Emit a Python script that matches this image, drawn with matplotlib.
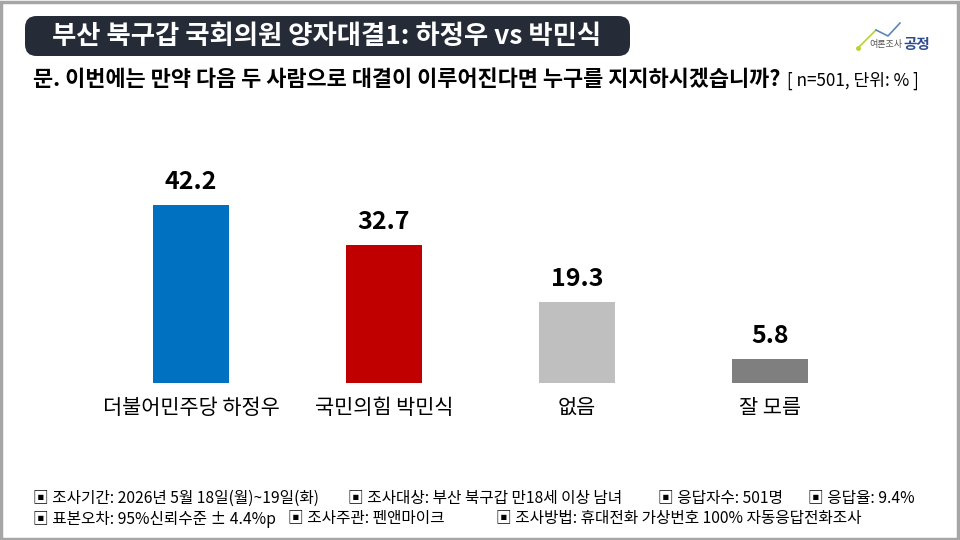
import matplotlib.pyplot as plt
from matplotlib.patches import FancyBboxPatch, Rectangle

plt.rcParams['font.family'] = ['Noto Sans CJK KR', 'DejaVu Sans']

# 데이터
categories = ['더불어민주당 하정우', '국민의힘 박민식', '없음', '잘 모름']
values = [42.2, 32.7, 19.3, 5.8]
colors = ['#0070c0', '#c00000', '#bfbfbf', '#7f7f7f']

title = '부산 북구갑 국회의원 양자대결1: 하정우 vs 박민식'
question = '문. 이번에는 만약 다음 두 사람으로 대결이 이루어진다면 누구를 지지하시겠습니까?'
note = '[ n=501, 단위: % ]'
footer1 = ['▣ 조사기간: 2026년 5월 18일(월)~19일(화)', '▣ 조사대상: 부산 북구갑 만18세 이상 남녀',
           '▣ 응답자수: 501명', '▣ 응답율: 9.4%']
footer2 = ['▣ 표본오차: 95%신뢰수준 ± 4.4%p', '▣ 조사주관: 펜앤마이크',
           '▣ 조사방법: 휴대전화 가상번호 100% 자동응답전화조사']

W, H = 960, 540
fig = plt.figure(figsize=(9.6, 5.4), dpi=100)

def fx(px):
    return px / W

def fy(py):
    return 1 - py / H

# 테두리
fig.patches.append(Rectangle((0.001, 0.002), 0.997, 0.995, transform=fig.transFigure,
                             fill=False, edgecolor='#a6a6a6', linewidth=2.5))

# 제목 상자
fig.patches.append(FancyBboxPatch((fx(25), fy(56)), fx(605), 40 / H,
                                  boxstyle='round,pad=0,rounding_size=0.012',
                                  transform=fig.transFigure, facecolor='#262b38',
                                  edgecolor='none', mutation_aspect=W / H))
fig.text(fx(327), fy(37), title, color='white', fontsize=19, fontweight='bold',
         ha='center', va='center')

# 질문
fig.text(fx(33), fy(80), question, fontsize=15.8, fontweight='bold', va='center')
fig.text(fx(787), fy(81), note, fontsize=12.3, va='center')

# 로고
lx = [fx(858), fx(876), fx(888), fx(900)]
ly = [fy(48), fy(30), fy(36), fy(23)]
fig.lines.append(plt.Line2D(lx[:2], ly[:2], transform=fig.transFigure, color='#b5d334', lw=1.2))
fig.lines.append(plt.Line2D(lx[1:], ly[1:], transform=fig.transFigure, color='#5a87b8', lw=1.2))
fig.lines.append(plt.Line2D(lx[:1], ly[:1], transform=fig.transFigure,
                            color='#b5d334', lw=0, marker='o', ms=2.5))
fig.text(fx(886), fy(45), '여론조사', fontsize=6.5, color='#555555', ha='center', va='center')
fig.text(fx(917), fy(44), '공정', fontsize=10.5, color='#2e4d8f', fontweight='bold',
         ha='center', va='center')

# 막대
step = 193
ax = fig.add_axes([fx(191 - 0.5 * step), 157 / H, fx(4 * step), 211 / H])
x = range(len(categories))
bars = ax.bar(x, values, width=0.39, color=colors)
ax.set_xlim(-0.5, 3.5)
ax.set_ylim(0, 50)
ax.axis('off')
for b, v in zip(bars, values):
    ax.annotate(f'{v:.1f}', (b.get_x() + b.get_width() / 2, v), xytext=(0, 16.5),
                textcoords='offset points', ha='center', va='center',
                fontsize=18, fontweight='bold')
for i, c in enumerate(categories):
    ax.annotate(c, (i, 0), xytext=(0, -18), textcoords='offset points',
                ha='center', va='center', fontsize=15)

# 하단 주석
x1 = [33, 348, 658, 808]
x2 = [33, 288, 496]
for t, px in zip(footer1, x1):
    fig.text(fx(px), fy(498), t, fontsize=11.3, va='center')
for t, px in zip(footer2, x2):
    fig.text(fx(px), fy(519), t, fontsize=11.3, va='center')

fig.savefig('out.png', dpi=100)
